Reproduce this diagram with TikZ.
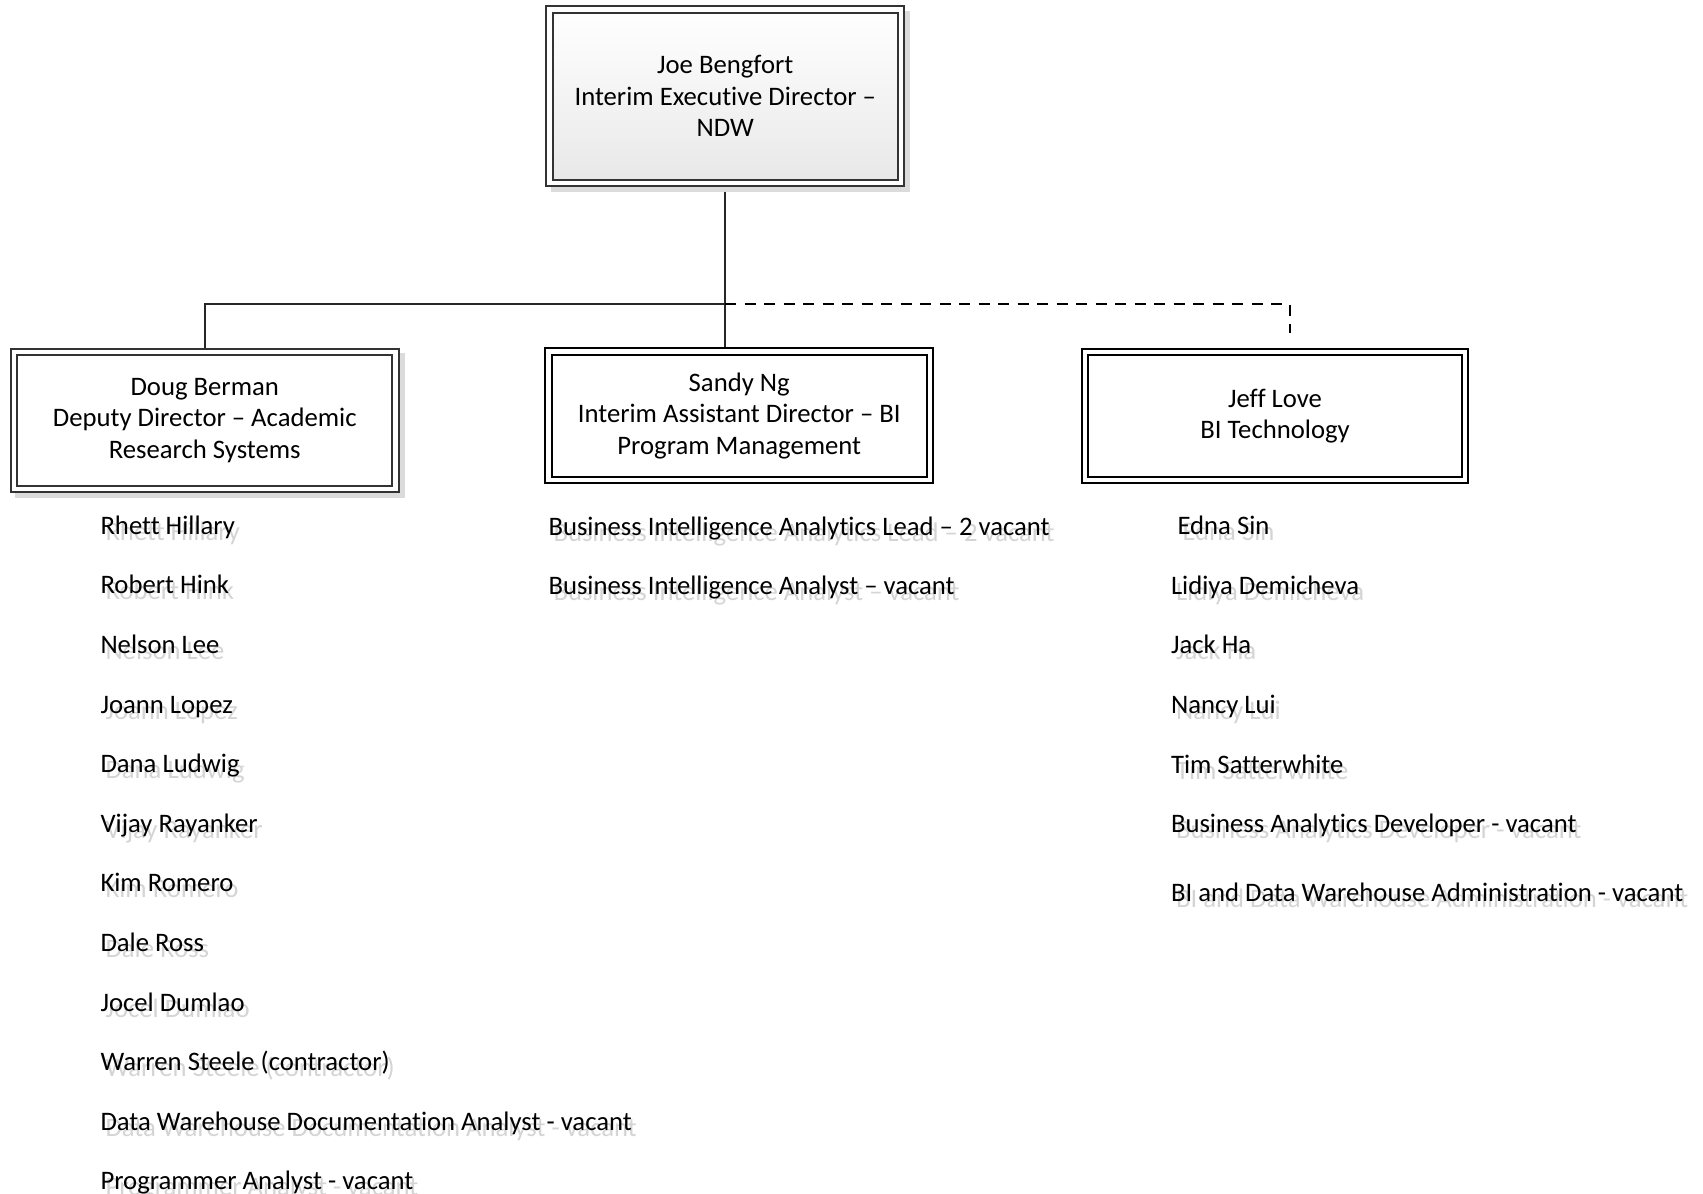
\documentclass[tikz,border=0pt]{standalone}
\usepackage{fontspec}
\setmainfont{Carlito}[Ligatures=NoCommon]
\usetikzlibrary{backgrounds}

% list entry with a soft grey offset copy behind it
\newcommand\shadowtext[1]{\makebox[0pt][l]{\hspace{5pt}\raisebox{-6pt}{\textcolor{black!17}{#1}}}#1}

\tikzset{
  orgbox/.style={draw=#1, double=white, double distance=4.7pt, line width=1.8pt,
    inner sep=0pt, outer sep=0pt, align=center,
    font=\fontsize{26.7}{31.5}\selectfont},
  member/.style={anchor=base west, inner sep=0pt, outer sep=0pt,
    font=\fontsize{26.7}{31.5}\selectfont},
  link/.style={draw=black!85, line width=1.6pt},
  dottedlink/.style={draw=black, line width=1.6pt, dash pattern=on 11pt off 8.5pt},
  boxshade/.style={fill=black!14},
}

\begin{document}
\begin{tikzpicture}[x=1pt,y=-1pt]
\useasboundingbox (0,0) rectangle (1703,1194);

% boxes
\node[orgbox=black!80, minimum width=351.5pt, minimum height=173.5pt,
      top color=white, bottom color=black!9] (top) at (725.25,96.25)
  {Joe Bengfort\\Interim Executive Director –\\NDW};
\node[orgbox=black!80, fill=white, minimum width=381.5pt, minimum height=137pt] (doug) at (204.75,420.5)
  {Doug Berman\\Deputy Director – Academic\\Research Systems};
\node[orgbox=black, fill=white, minimum width=381.5pt, minimum height=128.5pt] (sandy) at (739.25,415.75)
  {Sandy Ng\\Interim Assistant Director – BI\\Program Management};
\node[orgbox=black, fill=white, minimum width=380pt, minimum height=128pt] (jeff) at (1275,416)
  {Jeff Love\\BI Technology};

% connectors and shadows behind the boxes
\coordinate (bus) at (725,304);
\coordinate (jtap) at (1290,333);
\begin{pgfonlayer}{background}
  \draw[link] (top.south -| bus) -- (bus |- sandy.north);
  \draw[link] (bus) -| (doug.north);
  \draw[dottedlink] (bus) -| (jtap);
  \fill[boxshade] ([shift={(1,1)}]top.north west) rectangle ([shift={(9,9)}]top.south east);
  \fill[boxshade] ([shift={(1,1)}]doug.north west) rectangle ([shift={(9,9)}]doug.south east);
\end{pgfonlayer}

% staff under Doug Berman
\foreach \who [count=\i] in {Rhett Hillary, Robert Hink, Nelson Lee, Joann Lopez,
    Dana Ludwig, Vijay Rayanker, Kim Romero, Dale Ross, Jocel Dumlao,
    Warren Steele (contractor), Data Warehouse Documentation Analyst - vacant,
    Programmer Analyst - vacant}
  \node[member] (ars\i) at (100.5,{534.3+59.6*(\i-1)}) {\shadowtext{\who}};

% positions under Sandy Ng
\node[member] (bip1) at (548.5,535) {\shadowtext{Business Intelligence Analytics Lead – 2 vacant}};
\node[member] (bip2) at (548.5,594) {\shadowtext{Business Intelligence Analyst – vacant}};

% staff under Jeff Love
\node[member] (bit1) at (1177.5,534) {\shadowtext{Edna Sin}};
\node[member] (bit2) at (1171,594) {\shadowtext{Lidiya Demicheva}};
\node[member] (bit3) at (1171,653) {\shadowtext{Jack Ha}};
\node[member] (bit4) at (1171,713) {\shadowtext{Nancy Lui}};
\node[member] (bit5) at (1171,773) {\shadowtext{Tim Satterwhite}};
\node[member] (bit6) at (1171,832) {\shadowtext{Business Analytics Developer - vacant}};
\node[member] (bit7) at (1171,901) {\shadowtext{BI and Data Warehouse Administration - vacant}};
\end{tikzpicture}
\end{document}
